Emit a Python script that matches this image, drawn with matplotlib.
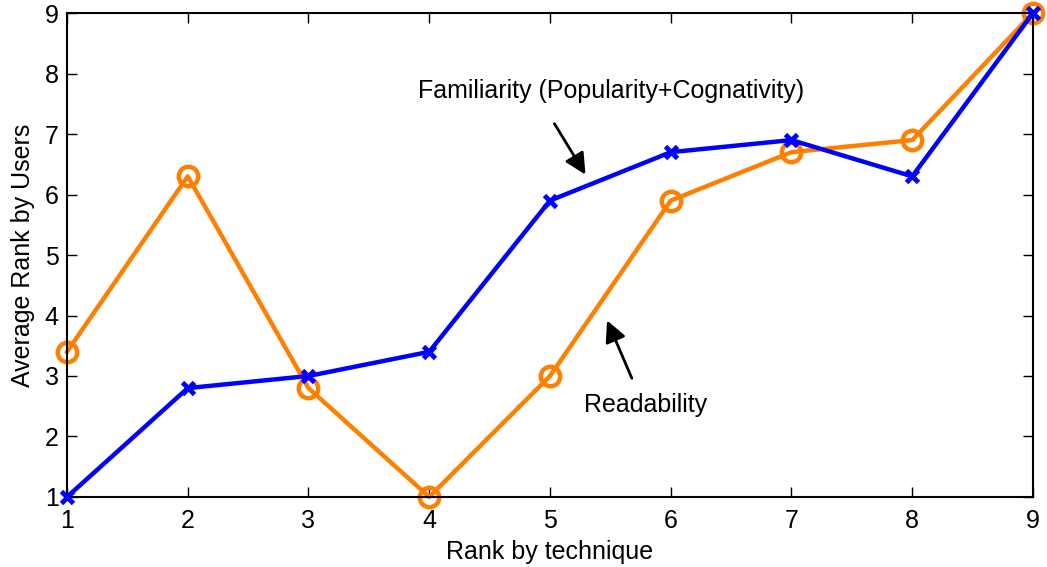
import matplotlib
matplotlib.use("Agg")
import matplotlib.pyplot as plt

plt.rcParams['font.family'] = ['Liberation Sans', 'DejaVu Sans']

ranks = [1, 2, 3, 4, 5, 6, 7, 8, 9]
familiarity = [1.0, 2.8, 3.0, 3.4, 5.9, 6.7, 6.9, 6.3, 9.0]
readability = [3.4, 6.3, 2.8, 1.0, 3.0, 5.9, 6.7, 6.9, 9.0]

fig = plt.figure(figsize=(10.47, 5.67), dpi=100)
ax = fig.add_axes([0.064, 0.1235, 0.9226, 0.8535])

ax.plot(ranks, familiarity, color='#0000ff', lw=3.2, marker='x', ms=9, mew=3.5,
        zorder=3, clip_on=False)
ax.plot(ranks, readability, color='#ff8000', lw=3.2, marker='o', ms=14, mew=3.2,
        mfc='none', zorder=2, clip_on=False)

ax.set_xlim(1, 9)
ax.set_ylim(1, 9)
ax.set_xticks(ranks)
ax.set_yticks(range(1, 10))
ax.tick_params(direction='in', length=7, width=1, labelsize=18, top=True, right=True)
ax.tick_params(axis='x', pad=9)
ax.tick_params(axis='y', pad=6)
for s in ax.spines.values():
    s.set_linewidth(1.5)
ax.set_xlabel('Rank by technique', fontsize=18, labelpad=5)
ax.set_ylabel('Average Rank by Users', fontsize=18, labelpad=7)

ax.annotate('', xy=(5.306, 6.29), xytext=(5.025, 7.21),
            arrowprops=dict(arrowstyle='-|>', color='black', lw=2, mutation_scale=32))
ax.text(5.505, 7.71, 'Familiarity (Popularity+Cognativity)', fontsize=18,
        ha='center', va='center')
ax.annotate('', xy=(5.464, 3.96), xytext=(5.687, 2.92),
            arrowprops=dict(arrowstyle='-|>', color='black', lw=2, mutation_scale=32))
ax.text(5.795, 2.52, 'Readability', fontsize=18, ha='center', va='center')

fig.savefig('out.png', dpi=100)
